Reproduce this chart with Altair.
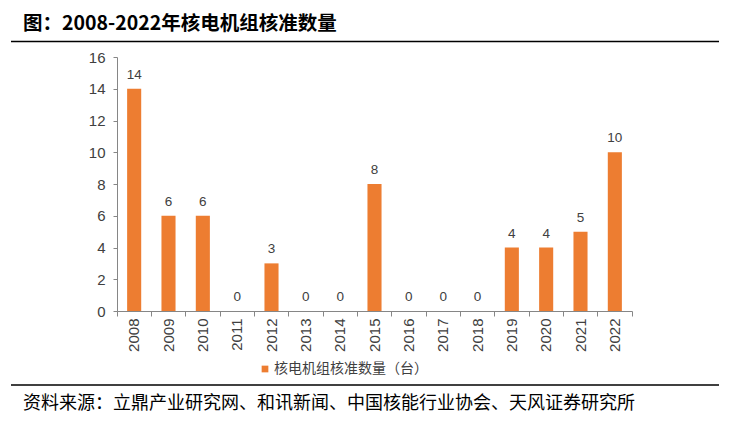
import altair as alt
import pandas as pd

# ---- data ----
years = ["2008", "2009", "2010", "2011", "2012", "2013", "2014", "2015",
         "2016", "2017", "2018", "2019", "2020", "2021", "2022"]
approvals = [14, 6, 6, 0, 3, 0, 0, 8, 0, 0, 0, 4, 4, 5, 10]
series_name = "核电机组核准数量（台）"
y_tick_values = [0, 2, 4, 6, 8, 10, 12, 14, 16]
title_text = ["图：2008-2022年核电机组核准数量"]
source_text = ["资料来源：立鼎产业研究网、和讯新闻、中国核能行业协会、天风证券研究所"]

df = pd.DataFrame({"year": years, "value": approvals, "series": series_name})

W, H = 515, 254
BAR = "#ED7D31"
TXT = "#404040"
NUM_FONT = "Liberation Sans"
CJK_FONT = "Noto Sans CJK SC"

x_enc = alt.X(
    "year:N", sort=years,
    scale=alt.Scale(paddingInner=0, paddingOuter=0),
    axis=alt.Axis(title=None, labelAngle=-90, bandPosition=1, tickExtra=True,
                  labelFont=NUM_FONT, labelFontSize=15,
                  labelColor=TXT, labelPadding=2, tickSize=5, tickColor="#868686",
                  domainColor="#868686", labelAlign="right", labelBaseline="middle"),
)
y_enc = alt.Y(
    "value:Q",
    scale=alt.Scale(domain=[0, 16], nice=False),
    axis=alt.Axis(title=None, values=y_tick_values, grid=False, tickSize=4,
                  labelOverlap=False, labelPadding=8, labelFont=NUM_FONT,
                  labelFontSize=15, labelColor=TXT, tickColor="#868686",
                  domainColor="#868686", labelFlush=False),
)

base = alt.Chart(df)

bars = base.mark_bar(width=alt.RelativeBandSize(0.41)).encode(
    x=x_enc, y=y_enc,
    color=alt.Color(
        "series:N",
        scale=alt.Scale(domain=[series_name], range=[BAR]),
        legend=alt.Legend(title=None, orient="none", legendX=141, legendY=305,
                          symbolType="square", symbolSize=45, symbolStrokeWidth=0,
                          labelFont=CJK_FONT, labelFontSize=14, labelColor=TXT,
                          labelOffset=2, padding=0),
    ),
)

labels = base.mark_text(dy=-10, baseline="alphabetic", font=NUM_FONT,
                        fontSize=13.5, color=TXT).encode(
    x=x_enc, y=y_enc, text="value:Q"
)

rules_df = pd.DataFrame({"k": [0]})
top_rule = alt.Chart(rules_df).mark_rule(color="black", strokeWidth=1.3).encode(
    x=alt.value(-106), x2=alt.value(602), y=alt.value(-15.5))
bottom_rule = alt.Chart(rules_df).mark_rule(color="black", strokeWidth=1.3).encode(
    x=alt.value(-106), x2=alt.value(602), y=alt.value(328))

title = alt.Chart(pd.DataFrame({"t": title_text})).mark_text(
    align="left", baseline="alphabetic", font=CJK_FONT, fontSize=19.5,
    fontWeight="bold", color="black").encode(
    x=alt.value(-94), y=alt.value(-27), text="t:N")

source = alt.Chart(pd.DataFrame({"t": source_text})).mark_text(
    align="left", baseline="alphabetic", font=CJK_FONT, fontSize=18,
    color="black").encode(
    x=alt.value(-94), y=alt.value(352), text="t:N")

chart = alt.layer(bars, labels, top_rule, bottom_rule, title, source).properties(
    width=W, height=H,
    autosize=alt.AutoSizeParams(type="none"),
    padding={"left": 109, "top": 49, "right": 90, "bottom": 105},
).configure_view(stroke=None)

chart.save("out.html", embed_options={"renderer": "svg", "actions": False})
